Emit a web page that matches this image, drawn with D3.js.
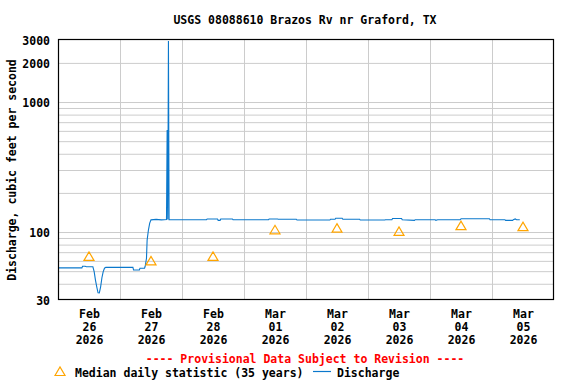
<!DOCTYPE html>
<html>
<head>
<meta charset="utf-8">
<script src="https://cdn.jsdelivr.net/npm/d3@7"></script>
<style>
  body { margin: 0; background: #fff; }
  text { font-family: 'DejaVu Sans Mono', 'Liberation Mono', monospace; font-weight: bold; font-size: 11.5px; }
</style>
</head>
<body>
<div id="chart"></div>
<script>
// median daily statistic, one per day (plotted at noon)
const medianDays = ['2026-02-26', '2026-02-27', '2026-02-28', '2026-03-01', '2026-03-02', '2026-03-03', '2026-03-04', '2026-03-05']
const medianValues = [65, 60, 65, 104, 107, 101, 112, 110]

// discharge, cfs
const dischargeTimes = [
  '2026-02-26T00:00', '2026-02-26T09:15', '2026-02-26T09:30', '2026-02-26T10:30', '2026-02-26T11:00', '2026-02-26T13:30',
  '2026-02-26T14:00', '2026-02-26T14:30', '2026-02-26T15:00', '2026-02-26T15:30', '2026-02-26T16:00', '2026-02-26T16:30',
  '2026-02-26T17:00', '2026-02-26T17:30', '2026-02-26T18:00', '2026-02-26T18:30', '2026-02-26T22:00',
  '2026-02-27T00:00', '2026-02-27T05:00', '2026-02-27T05:15', '2026-02-27T07:30', '2026-02-27T07:45', '2026-02-27T09:30',
  '2026-02-27T09:45', '2026-02-27T10:15', '2026-02-27T10:30', '2026-02-27T11:00', '2026-02-27T11:30', '2026-02-27T12:00',
  '2026-02-27T14:00', '2026-02-27T16:00', '2026-02-27T18:00', '2026-02-27T18:15', '2026-02-27T18:30', '2026-02-27T18:45',
  '2026-02-27T19:00',
  '2026-02-28T09:30', '2026-02-28T09:45', '2026-02-28T13:45', '2026-02-28T14:00', '2026-02-28T14:45', '2026-02-28T15:00',
  '2026-02-28T19:30', '2026-02-28T19:45',
  '2026-03-01T09:30', '2026-03-01T09:45', '2026-03-01T13:00', '2026-03-01T13:15', '2026-03-01T20:15', '2026-03-01T20:30',
  '2026-03-02T09:15', '2026-03-02T09:30', '2026-03-02T11:15', '2026-03-02T11:30', '2026-03-02T14:00', '2026-03-02T14:15',
  '2026-03-02T20:45', '2026-03-02T21:00',
  '2026-03-03T06:30', '2026-03-03T06:45', '2026-03-03T09:15', '2026-03-03T09:30', '2026-03-03T13:00', '2026-03-03T13:15',
  '2026-03-03T18:00', '2026-03-03T18:15',
  '2026-03-04T02:00', '2026-03-04T02:15', '2026-03-04T03:00', '2026-03-04T11:45', '2026-03-04T12:00', '2026-03-04T23:00',
  '2026-03-04T23:15',
  '2026-03-05T05:00', '2026-03-05T05:15', '2026-03-05T08:00', '2026-03-05T08:15', '2026-03-05T09:00', '2026-03-05T09:30',
  '2026-03-05T10:45'
]
const dischargeValues = [
  53, 53, 54.5, 54.5, 54, 54,
  49.6, 42.7, 37.9, 34.1, 34, 37.9,
  44.5, 49.6, 52.7, 53.5, 53.5,
  53.5, 53.5, 51, 51, 52.7, 52.7,
  54.5, 62.8, 86.7, 103.6, 117, 124,
  125, 124, 125, 610, 125, 2950,
  124.4,
  124.4, 126, 126, 123, 123, 126,
  126, 124.4,
  124.4, 126, 126, 125.4, 125.4, 123.7,
  123.7, 125.4, 125.4, 127.6, 127.6, 125.4,
  125.4, 123.7,
  123.7, 124.4, 124.4, 127, 127, 124.4,
  123, 124.4,
  124.4, 123, 124.4, 124.4, 126.5, 126.5,
  124.4,
  124.4, 123, 123, 124.4, 126, 124.4,
  124.4
]

const yTickValues = [30, 100, 1000, 2000, 3000]
const yGridValues = [40, 50, 60, 70, 80, 90, 100, 200, 300, 400, 500, 600, 700, 800, 900, 1000, 2000]
const xGridDays = ['2026-02-27', '2026-02-28', '2026-03-01', '2026-03-02', '2026-03-03', '2026-03-04', '2026-03-05']

const title = 'USGS 08088610 Brazos Rv nr Graford, TX'
const yLabel = 'Discharge, cubic feet per second'
const note = '---- Provisional Data Subject to Revision ----'
const legendMedian = 'Median daily statistic (35 years)'
const legendDischarge = 'Discharge'

const width = 576
const height = 384
const margin = { top: 40, right: 22, bottom: 84, left: 58 }

const parseTime = d3.timeParse('%Y-%m-%dT%H:%M')
const parseDay = d3.timeParse('%Y-%m-%d')
const noon = s => d3.timeHour.offset(parseDay(s), 12)

const x = d3.scaleTime()
  .domain([parseDay('2026-02-26'), parseDay('2026-03-06')])
  .range([margin.left, width - margin.right])

const y = d3.scaleLog()
  .domain([30, 3000])
  .range([height - margin.bottom, margin.top])

const svg = d3.select('#chart').append('svg')
  .attr('width', width)
  .attr('height', height)

const gridColor = '#cccccc'

// horizontal grid
svg.append('g')
  .attr('transform', `translate(${margin.left},0)`)
  .call(d3.axisLeft(y).tickValues(yGridValues).tickSize(-(width - margin.left - margin.right)).tickFormat(''))
  .call(g => g.select('.domain').remove())
  .call(g => g.selectAll('line').attr('stroke', gridColor))

// vertical grid at midnight
svg.append('g')
  .attr('transform', `translate(0,${height - margin.bottom})`)
  .call(d3.axisBottom(x).tickValues(xGridDays.map(parseDay)).tickSize(-(height - margin.top - margin.bottom)).tickFormat(''))
  .call(g => g.select('.domain').remove())
  .call(g => g.selectAll('line').attr('stroke', gridColor))

// y tick labels
svg.append('g')
  .attr('transform', `translate(${margin.left},0)`)
  .call(d3.axisLeft(y).tickValues(yTickValues).tickSize(0).tickPadding(8).tickFormat(d3.format('d')))
  .call(g => g.select('.domain').remove())
  .call(g => g.selectAll('text')
    .attr('fill', '#000')
    .attr('font-size', null)
    .attr('font-family', null)
    .attr('dy', '0.36em'))

// x tick labels, three lines each
const xAxis = svg.append('g')
  .attr('transform', `translate(0,${height - margin.bottom})`)
  .call(d3.axisBottom(x).tickValues(medianDays.map(noon)).tickSize(0).tickFormat(''))
  .call(g => g.select('.domain').remove())

xAxis.selectAll('.tick text').remove()
xAxis.selectAll('.tick').append('text')
  .attr('fill', '#000')
  .attr('text-anchor', 'middle')
  .selectAll('tspan')
  .data(d => [d3.timeFormat('%b')(d), d3.timeFormat('%d')(d), d3.timeFormat('%Y')(d)])
  .join('tspan')
  .attr('x', 0)
  .attr('y', (d, i) => 18 + i * 13)
  .text(d => d)

// discharge line
const discharge = dischargeTimes.map((t, i) => ({ t: parseTime(t), v: dischargeValues[i] }))
const blue = '#0b78cc'

svg.append('path')
  .datum(discharge)
  .attr('fill', 'none')
  .attr('stroke', blue)
  .attr('stroke-width', 1.1)
  .attr('d', d3.line().x(d => x(d.t)).y(d => y(d.v)))

// median triangles
const orange = '#ffa500'
const tri = 'M-5,4L0,-4.5L5,4Z'

svg.append('g')
  .selectAll('path')
  .data(medianDays.map((d, i) => ({ t: noon(d), v: medianValues[i] })))
  .join('path')
  .attr('transform', d => `translate(${x(d.t)},${y(d.v)})`)
  .attr('d', tri)
  .attr('fill', 'none')
  .attr('stroke', orange)
  .attr('stroke-width', 1.2)

// plot frame
svg.append('rect')
  .attr('x', margin.left + 0.5)
  .attr('y', margin.top - 0.5)
  .attr('width', width - margin.left - margin.right - 1)
  .attr('height', height - margin.top - margin.bottom)
  .attr('fill', 'none')
  .attr('stroke', '#000')
  .attr('stroke-width', 1.2)

// title
svg.append('text')
  .attr('x', 305)
  .attr('y', 24)
  .attr('text-anchor', 'middle')
  .text(title)

// y axis title
svg.append('text')
  .attr('transform', `translate(16,${(margin.top + height - margin.bottom) / 2}) rotate(-90)`)
  .attr('text-anchor', 'middle')
  .text(yLabel)

// provisional note
svg.append('text')
  .attr('x', 305)
  .attr('y', 363)
  .attr('text-anchor', 'middle')
  .attr('fill', '#ff0000')
  .text(note)

// legend
svg.append('path')
  .attr('transform', 'translate(60,371.5)')
  .attr('d', tri)
  .attr('fill', 'none')
  .attr('stroke', orange)
  .attr('stroke-width', 1.2)

svg.append('text')
  .attr('x', 75)
  .attr('y', 376.5)
  .text(legendMedian)

svg.append('line')
  .attr('x1', 313)
  .attr('x2', 331)
  .attr('y1', 371.5)
  .attr('y2', 371.5)
  .attr('stroke', blue)
  .attr('stroke-width', 1.2)

svg.append('text')
  .attr('x', 337)
  .attr('y', 376.5)
  .text(legendDischarge)
</script>
</body>
</html>
